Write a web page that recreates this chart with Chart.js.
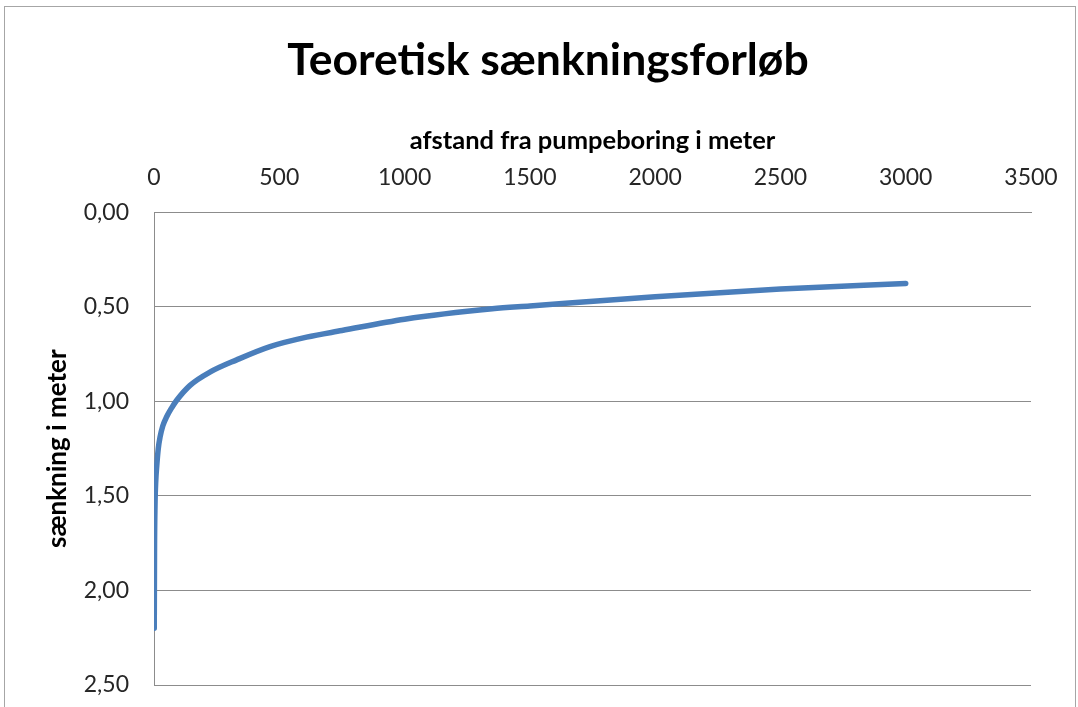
<!DOCTYPE html>
<html>
<head>
<meta charset="utf-8">
<script src="https://cdn.jsdelivr.net/npm/chart.js@4"></script>
<style>
  body { margin: 0; background: #fff; }
  #wrap { position: relative; width: 1078px; height: 707px; overflow: hidden; }
  #frame { position: absolute; left: 4px; top: 6px; width: 1070px; height: 740px; border: 1px solid #a6a6a6; pointer-events: none; }
</style>
</head>
<body>
<div id="wrap">
  <canvas id="chart" width="1078" height="707"></canvas>
  <div id="frame"></div>
</div>
<script>
// afstand fra pumpeboring (m) og sænkning (m)
const distances = [1, 2, 4, 7, 11, 17, 24, 35, 51, 70, 90, 144, 223, 330, 463, 609, 750, 1000, 1350, 1500, 2000, 2500, 3000];
const drawdown = [2.20, 1.80, 1.55, 1.42, 1.34, 1.25, 1.19, 1.13, 1.08, 1.035, 0.995, 0.915, 0.845, 0.78, 0.71, 0.66, 0.625, 0.565, 0.51, 0.495, 0.446, 0.405, 0.376];
const xTicks = [0, 500, 1000, 1500, 2000, 2500, 3000, 3500];
const yTicks = [0, 0.5, 1.0, 1.5, 2.0, 2.5];

const fontName = 'Lato';
const gridColor = '#8c8c8c';

const points = distances.map((d, i) => ({ x: d, y: drawdown[i] }));

// Excel centrerer titlen på hele diagrammet, ikke kun på plotområdet
const centerTitle = {
    id: 'centerTitle',
    afterLayout(chart) {
        const t = chart.titleBlock;
        if (t) {
            t.left = 0;
            t.right = 1096;
            t.width = 1096;
        }
    }
};

new Chart(document.getElementById('chart'), {
    type: 'scatter',
    data: {
        datasets: [{
            label: 'sænkning',
            data: points,
            showLine: true,
            borderColor: '#4a7ebb',
            borderWidth: 5.5,
            borderCapStyle: 'round',
            cubicInterpolationMode: 'monotone',
            pointRadius: 0,
            pointHoverRadius: 0
        }]
    },
    plugins: [centerTitle],
    options: {
        responsive: false,
        animation: false,
        layout: { padding: { left: 0, right: 47, top: 0, bottom: 22 } },
        plugins: {
            legend: { display: false },
            tooltip: { enabled: false },
            title: {
                display: true,
                text: 'Teoretisk sænkningsforløb',
                color: '#000',
                font: { family: fontName, size: 44.5, weight: 'bold', lineHeight: 1.2 },
                padding: { top: 34, bottom: 15 }
            }
        },
        scales: {
            x: {
                type: 'linear',
                position: 'top',
                min: 0,
                max: 3500,
                afterBuildTicks: axis => { axis.ticks = xTicks.map(v => ({ value: v })); },
                afterFit: axis => {
                    axis.height = 110;
                    axis.paddingLeft = 0;
                    axis.paddingRight = 0;
                },
                grid: { display: false, drawTicks: false },
                border: { display: true, color: gridColor, width: 1 },
                ticks: {
                    color: '#262626',
                    padding: 21,
                    font: { family: fontName, size: 23, lineHeight: 1.2 },
                    callback: v => String(v)
                },
                title: {
                    display: true,
                    text: 'afstand fra pumpeboring i meter',
                    color: '#000',
                    font: { family: fontName, size: 25.5, weight: 'bold', lineHeight: 1.2 },
                    padding: { top: 23, bottom: 0 }
                }
            },
            y: {
                type: 'linear',
                reverse: true,
                min: 0,
                max: 2.5,
                afterBuildTicks: axis => { axis.ticks = yTicks.map(v => ({ value: v })); },
                afterFit: axis => {
                    axis.width = 154;
                    axis.paddingTop = 0;
                    axis.paddingBottom = 0;
                },
                grid: { color: gridColor, lineWidth: 1, drawTicks: false },
                border: { display: true, color: gridColor, width: 1 },
                ticks: {
                    color: '#262626',
                    padding: 25,
                    font: { family: fontName, size: 23, lineHeight: 1.2 },
                    callback: v => v.toFixed(2).replace('.', ',')
                },
                title: {
                    display: true,
                    text: 'sænkning i meter',
                    color: '#000',
                    font: { family: fontName, size: 26, weight: 'bold', lineHeight: 1.2 },
                    padding: { top: 42, bottom: 0 }
                }
            }
        }
    }
});
</script>
</body>
</html>
